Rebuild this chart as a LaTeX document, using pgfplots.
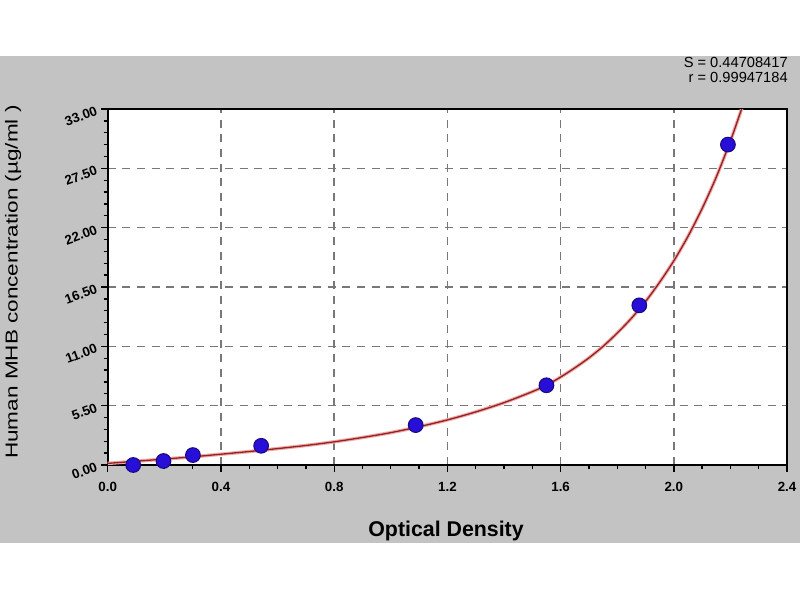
\documentclass[border=0pt]{standalone}
\usepackage{fontspec}
\setmainfont{Liberation Sans}
\usepackage{graphicx}
\usepackage{pgfplots}
\pgfplotsset{compat=1.18}
\definecolor{panel}{RGB}{195,195,195}
\definecolor{gridc}{RGB}{120,120,120}
\definecolor{curvec}{RGB}{150,35,35}
\definecolor{halo}{RGB}{240,170,170}
\definecolor{markf}{RGB}{40,15,215}
\definecolor{markd}{RGB}{25,10,130}
\pgfplotstableread{
x y
0.00 0.15
0.10 0.35
0.20 0.55
0.30 0.76
0.40 1.00
0.50 1.25
0.60 1.52
0.70 1.81
0.80 2.15
0.90 2.55
1.00 3.00
1.10 3.55
1.20 4.18
1.30 4.92
1.40 5.78
1.50 6.80
1.55 7.40
1.60 8.15
1.65 9.00
1.70 9.93
1.75 11.0
1.80 12.23
1.85 13.6
1.90 15.16
1.95 16.95
2.00 18.93
2.05 21.2
2.10 23.78
2.15 26.7
2.20 30.05
2.24 33.05
}\curvetable
\begin{document}
\begin{tikzpicture}
\path[use as bounding box, fill=white] (-80.8pt,-101.25pt) rectangle (519.2pt,348.75pt);
\fill[panel] (-80.8pt,-58.5pt) rectangle (519.2pt,306.75pt);
\begin{axis}[
  at={(0pt,0pt)}, anchor=origin,
  scale only axis, width=509.5pt, height=267pt,
  xmin=0, xmax=2.4, ymin=0, ymax=33,
  axis background/.style={fill=white},
  axis line style={line width=1.6pt, black},
  xtick={0,0.4,...,2.41}, ytick={0,5.5,11,16.5,22,27.5,33},
  minor x tick num=3, minor y tick num=4,
  tick align=outside, tick pos=left,
  major tick length=5pt, minor tick length=3pt,
  every tick/.style={black, line width=1pt},
  grid=major,
  major grid style={dashed, dash pattern=on 6pt off 5pt, gridc, line width=1.1pt},
  /pgf/number format/assume math mode=true,
  xticklabel style={/pgf/number format/.cd, fixed, fixed zerofill, precision=1, /tikz/.cd, font=\fontsize{10}{12}\selectfont\bfseries, yshift=-4pt},
  yticklabel style={/pgf/number format/.cd, fixed, fixed zerofill, precision=2, /tikz/.cd, font=\fontsize{10}{12}\selectfont\bfseries, rotate=20, anchor=east},
  xlabel={\fontsize{16}{18}\selectfont\bfseries Optical Density},
  xlabel style={at={(axis description cs:0.498,-0.185)}, anchor=center},
  ylabel={\scalebox{1.3}[1]{\fontsize{13}{14}\selectfont Human MHB  concentration (µg/ml )}},
  ylabel style={at={(axis description cs:-0.1394,0.514)}, anchor=center, rotate=0},
  clip=true,
]
\addplot[halo, line width=2.6pt, smooth] table[x=x, y=y] {\curvetable};
\addplot[curvec, line width=1pt, smooth] table[x=x, y=y] {\curvetable};
\addplot[only marks, mark=*, mark size=5.5pt, mark options={fill=markf, draw=markd, line width=0.8pt}] coordinates {
(0.090,0.00) (0.197,0.37) (0.301,0.92) (0.542,1.78) (1.088,3.70) (1.550,7.39) (1.878,14.8) (2.191,29.7)};
\end{axis}
\node[anchor=east, inner sep=0pt, font=\fontsize{11}{12}\selectfont] at (510.2pt,302.25pt) {S = 0.44708417};
\node[anchor=east, inner sep=0pt, font=\fontsize{11}{12}\selectfont] at (510.2pt,290.6pt) {r = 0.99947184};
\end{tikzpicture}
\end{document}
